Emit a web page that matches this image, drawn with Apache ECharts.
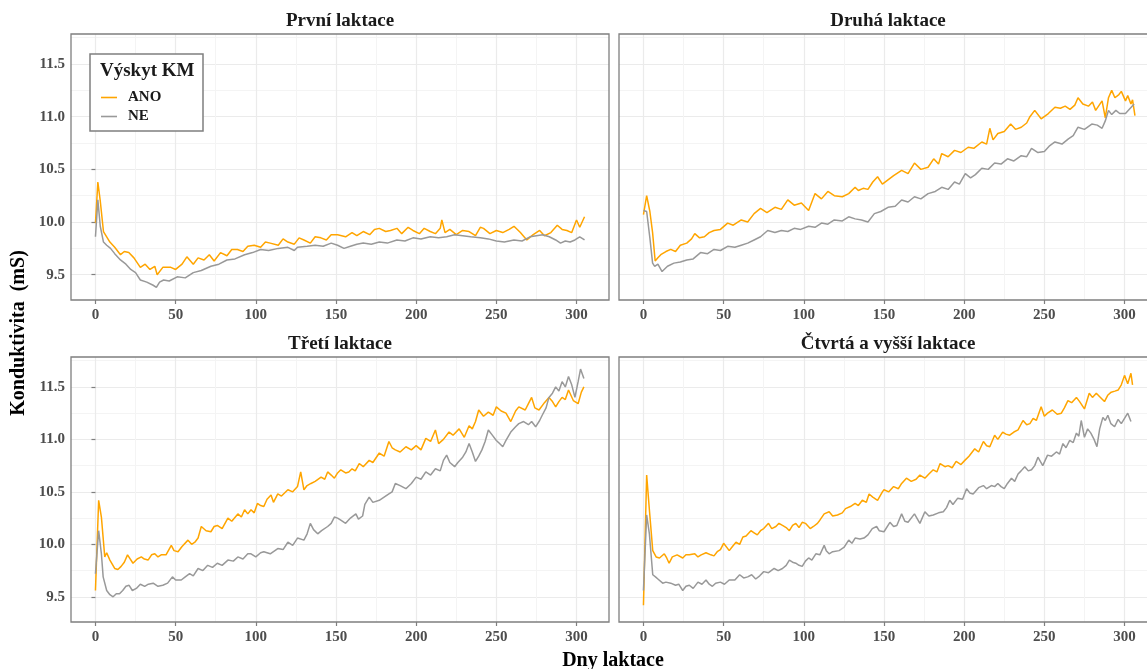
<!DOCTYPE html>
<html>
<head>
<meta charset="utf-8">
<title>Konduktivita</title>
<script src="https://cdn.jsdelivr.net/npm/echarts@6/dist/echarts.min.js"></script>
<style>
  html, body { margin: 0; padding: 0; background: #fff; }
  #main { width: 1147px; height: 669px; }
</style>
</head>
<body>
<div id="main"></div>
<script>
// tick labels
var xTicks = [0, 50, 100, 150, 200, 250, 300];
var xMinor = [25, 75, 125, 175, 225, 275];
var yTicks = [9.5, 10.0, 10.5, 11.0, 11.5];
var yMinor = [9.75, 10.25, 10.75, 11.25, 11.75];
var panelTitles = ['První laktace', 'Druhá laktace', 'Třetí laktace', 'Čtvrtá a vyšší laktace'];

// první laktace
var p1AnoDays = [0,1.5,3,5,7,9,12,15.6,18,20.8,24,28,31,34,37,38.5,42,47,50,54,57,61,64,67.7,71,74,78,82,85,88.5,92,95,99,103,106,109,114,117,120,124,127,130,134,137,140.6,144,147,151,156,160,163,167,171,174,177,181,184,188,191,195,198,202,205,208.75,212,215,216,218,221,225,229,233,237,240,242,246,250,254,258,261,265,269,273,277,280,284,288,291,294,297,300,302,305];
var p1AnoVals = [9.99,10.38,10.2,9.91,9.86,9.81,9.76,9.69,9.72,9.71,9.66,9.57,9.6,9.55,9.58,9.5,9.57,9.57,9.55,9.6,9.67,9.6,9.66,9.64,9.69,9.63,9.71,9.68,9.74,9.74,9.72,9.77,9.78,9.76,9.81,9.8,9.78,9.84,9.81,9.79,9.85,9.83,9.8,9.86,9.85,9.83,9.88,9.88,9.86,9.9,9.87,9.91,9.88,9.93,9.94,9.91,9.92,9.94,9.89,9.95,9.92,9.89,9.94,9.91,9.89,9.94,10.02,9.9,9.93,9.88,9.92,9.91,9.87,9.95,9.94,9.89,9.92,9.9,9.93,9.96,9.9,9.83,9.88,9.92,9.87,9.9,9.97,9.93,9.92,9.9,10.02,9.95,10.05];
var p1NeDays = [0,1.5,3,5,7,9.4,12,15.6,19,22,25,28,32,36,38,40,42.5,46,51,56,61,66,72,77,82,87,93,98,103,108,114,120,124,126,132,137,142,147,151,155,159,163,167,172,177,182,188,193,198,203,208.75,214,219,224,229,234,240,245,250,255,261,266,271,275,279,283,287,290,293,296,299,302,305];
var p1NeVals = [9.86,10.21,9.96,9.81,9.78,9.75,9.7,9.64,9.6,9.55,9.52,9.45,9.43,9.4,9.38,9.43,9.45,9.44,9.48,9.47,9.52,9.54,9.58,9.6,9.64,9.65,9.69,9.71,9.74,9.73,9.75,9.76,9.73,9.76,9.77,9.78,9.77,9.8,9.78,9.75,9.77,9.79,9.8,9.79,9.81,9.8,9.83,9.82,9.85,9.84,9.86,9.85,9.86,9.88,9.87,9.86,9.85,9.84,9.82,9.81,9.83,9.82,9.86,9.87,9.88,9.86,9.83,9.8,9.82,9.81,9.83,9.86,9.83];

// druhá laktace
var p2AnoDays = [0,2,4,5.7,7.3,9,10.8,14,17,20,23,27,30,32,35,38,41,44,48,52.5,56,61,65,69,73,77,82,86,90,94,98.5,103,107,111,115,119,124,128,132,134,137,140,143,146,149,152.5,156,161,165,169,173,177.5,181,184,186,190,194,198,202.5,206,211,214,216,218,221,225,229,232,235.6,239,241,244,248,252.5,256.6,260,263,266,269,271,274,277.5,280,282,286,288,290,292,294,296.5,298,300.6,302,304,305,306.5];
var p2AnoVals = [10.07,10.25,10.1,9.9,9.63,9.66,9.69,9.72,9.74,9.72,9.78,9.8,9.84,9.89,9.85,9.86,9.9,9.92,9.93,9.99,9.97,10.02,10.0,10.08,10.13,10.09,10.14,10.12,10.21,10.16,10.18,10.11,10.27,10.22,10.29,10.25,10.24,10.27,10.33,10.3,10.32,10.31,10.38,10.43,10.36,10.4,10.44,10.49,10.46,10.56,10.5,10.52,10.6,10.55,10.65,10.62,10.68,10.66,10.71,10.7,10.76,10.74,10.89,10.78,10.84,10.86,10.93,10.88,10.9,10.94,11.0,11.06,10.98,11.03,11.09,11.08,11.1,11.07,11.11,11.18,11.12,11.1,11.14,11.06,11.15,10.99,11.18,11.25,11.18,11.21,11.24,11.15,11.2,11.12,11.16,11.01];
var p2NeDays = [0,2,4,5.7,7,9,11.6,15,19,23,27,31,35.6,40,44,48,52.5,57,61,65,69,73,77.5,82,86,90,94,98,103,107,111,115,119,124,128,132,136,140,144,148,152.5,157,161,165,169,173,177.5,182,186,190,194,197,200.7,204,207,211,215,219,223,227,231,235.6,239,242,246,250,253,256.6,261,265,268,271,275,279.6,283,286,288,290,292,294.6,297,300.6,303,306];
var p2NeVals = [10.11,10.1,9.85,9.61,9.58,9.6,9.53,9.58,9.61,9.62,9.64,9.65,9.71,9.7,9.74,9.73,9.77,9.76,9.78,9.8,9.83,9.86,9.92,9.9,9.92,9.91,9.94,9.93,9.96,9.95,9.99,9.98,10.02,10.01,10.05,10.03,10.02,10.0,10.08,10.1,10.14,10.15,10.21,10.19,10.24,10.22,10.27,10.29,10.33,10.31,10.38,10.36,10.46,10.42,10.45,10.51,10.5,10.56,10.55,10.6,10.58,10.63,10.62,10.7,10.66,10.67,10.72,10.76,10.74,10.79,10.82,10.9,10.88,10.93,10.92,10.89,10.96,11.06,11.02,11.06,11.03,11.03,11.07,11.12];

// třetí laktace
var p3AnoDays = [0,2,3.7,5.8,7,9,12,14,16,18,20,23.4,26,28.6,30.5,32.8,35,37,39,41,44,47.3,49,51.5,54,57.7,60,62,64,66,69,72,74,76,79,82.6,85,88.8,91,93,95,97,99,101,103,105,107,109.5,111,113.7,116,120,123,126,128,130,132,134.4,137,140.7,143,144.8,147,149,151,153,156,158,160,162,164.5,167,170.7,173,177,180,183,185,187,190,193.6,197,200,203,206,209,212,214,217,220.5,223,226.8,230,233,235,237,239,242,245,248,250,253,256,259,262,264,268,270,272,274,276.6,280,282.8,285,287,289,291,293,295,298,301,303,304.6];
var p3AnoVals = [9.56,10.42,10.26,9.88,9.92,9.85,9.77,9.76,9.79,9.83,9.9,9.82,9.86,9.88,9.86,9.85,9.9,9.91,9.88,9.9,9.9,9.99,9.94,9.93,9.98,10.04,10.0,10.02,10.06,10.17,10.13,10.12,10.17,10.18,10.15,10.25,10.22,10.29,10.26,10.33,10.29,10.33,10.3,10.39,10.37,10.36,10.43,10.47,10.4,10.48,10.46,10.52,10.5,10.55,10.69,10.52,10.56,10.58,10.6,10.64,10.62,10.69,10.66,10.63,10.68,10.71,10.68,10.69,10.72,10.7,10.77,10.74,10.8,10.78,10.87,10.84,10.98,10.92,10.9,10.88,10.93,10.9,10.94,10.9,11.01,10.98,11.09,10.96,11.0,11.07,11.04,11.1,11.02,11.13,11.1,11.17,11.28,11.22,11.26,11.23,11.31,11.27,11.25,11.17,11.27,11.31,11.28,11.34,11.4,11.3,11.28,11.35,11.4,11.36,11.31,11.36,11.4,11.38,11.47,11.37,11.34,11.45,11.5];
var p3NeDays = [0,2,3.7,4.8,7,9,11,13,15,17,19,21,23,25.5,28,30.7,33,36,39,42,45,48,50,53.5,56,58.7,61,64,67,70,73,76,79,82.6,86,88.8,92,95,97,100,103,105,109,113.7,117,120,123,126,130,132,134,136,138.6,141,144.8,147,149,151,153,156,159,162.4,164,166.6,168,170.7,173,177,180,183,185,187,190,193.6,197,200,203,206,209,212,215,217,219,221,224,226,229,231,233,235,237,239,241,243,245,247,250,252,254,256,259,262,264,267,270,272,274.5,277,278.6,281,282.8,285,287,289,291,293,295,297,299,301,302.5,304.6];
var p3NeVals = [9.72,10.13,9.91,9.69,9.56,9.52,9.5,9.53,9.53,9.56,9.6,9.61,9.56,9.58,9.62,9.6,9.62,9.63,9.6,9.61,9.63,9.69,9.66,9.66,9.69,9.72,9.7,9.77,9.75,9.8,9.78,9.82,9.8,9.85,9.84,9.88,9.86,9.91,9.91,9.88,9.92,9.93,9.91,9.96,9.95,10.02,9.99,10.06,10.04,10.1,10.2,10.14,10.1,10.13,10.17,10.2,10.26,10.25,10.23,10.2,10.25,10.29,10.24,10.27,10.38,10.45,10.4,10.42,10.45,10.48,10.5,10.58,10.56,10.53,10.58,10.64,10.62,10.69,10.66,10.72,10.7,10.8,10.85,10.78,10.74,10.78,10.83,10.88,10.96,10.88,10.79,10.84,10.9,10.98,11.09,11.05,10.99,10.96,10.93,10.99,11.07,11.12,11.15,11.17,11.14,11.17,11.12,11.18,11.23,11.3,11.4,11.44,11.5,11.46,11.55,11.5,11.6,11.52,11.4,11.55,11.67,11.58];

// čtvrtá a vyšší laktace
var p4AnoDays = [0,2,3.7,5.8,7.9,10,13,14.5,16,18,21,24.5,26.5,28.6,32,34,36,39,42,44,46,48,50,53.5,55.5,57.7,60,62,64,67,69,71,73,75,78,80,82.6,84.5,86.7,89,91,93,95,97,99,101,104,106,108.5,110,112.7,115.8,118,121,124,126,129,132,134,136.5,139,140.7,143,146,149,150,153,156,159,161,164,167,170,172.4,175.5,178,180.7,183,185,188,190,192.5,195,198,200.4,203,206.6,209,212,214,216,219,221,224,226,228.4,231,233.6,236.7,239,241,243,245,248,250,252,255,258,260.6,262.5,264.7,267,270,272,275,278,280,282.4,285,287.5,289.5,291.7,294,296,298,300,302,304,305];
var p4AnoVals = [9.42,10.66,10.33,9.94,9.88,9.87,9.91,9.87,9.82,9.88,9.9,9.87,9.9,9.9,9.91,9.88,9.9,9.92,9.9,9.89,9.93,9.95,10.01,9.94,9.98,10.02,10.0,10.07,10.08,10.13,10.11,10.09,10.13,10.15,10.2,10.15,10.17,10.2,10.18,10.16,10.13,10.18,10.2,10.16,10.21,10.2,10.15,10.17,10.2,10.23,10.29,10.31,10.27,10.28,10.3,10.34,10.36,10.39,10.37,10.42,10.4,10.48,10.45,10.42,10.5,10.52,10.5,10.55,10.53,10.58,10.63,10.6,10.62,10.66,10.63,10.67,10.71,10.69,10.77,10.74,10.75,10.73,10.79,10.76,10.8,10.84,10.91,10.88,10.98,10.94,10.93,11.04,11.0,11.07,11.05,11.04,11.07,11.09,11.18,11.14,11.15,11.2,11.18,11.31,11.22,11.25,11.28,11.24,11.25,11.3,11.37,11.35,11.4,11.36,11.29,11.44,11.4,11.44,11.4,11.36,11.42,11.45,11.46,11.47,11.52,11.61,11.53,11.63,11.52];
var p4NeDays = [0,2,3.7,5.8,7.5,9,12,14,17,20,22,24.5,26.5,28.6,31,34,36.5,39,41,43,45,48,50.5,53.5,57,60,62.5,65,67.5,70,72.5,75,78,81.5,84,86.7,89,91,93,95,97,99,101,103,105,107.5,110,112.7,114,115.8,118,122,125,128,130,132,135,137.5,140,142.7,145.4,147,150,153.7,156,158,161,163,165,169,172.4,175.5,178,180.7,184,187,189,191,193,196,199,201.5,203.5,205.6,209,212,214,217,219,221,223,225,227,229.5,231.5,233.6,235.5,237.8,240,242,244,246,249,252,254.5,257.5,259.5,261.6,263.5,265.8,268,270,271.5,273,275,277,279,281,282.8,284.5,286.5,288,289.6,291.5,293.8,296,298,300,302,304];
var p4NeVals = [9.56,10.28,10.1,9.71,9.69,9.67,9.63,9.64,9.63,9.61,9.62,9.56,9.6,9.61,9.58,9.64,9.62,9.66,9.62,9.6,9.63,9.64,9.62,9.66,9.66,9.71,9.68,9.69,9.71,9.67,9.7,9.74,9.73,9.77,9.75,9.77,9.8,9.85,9.83,9.82,9.8,9.79,9.84,9.87,9.85,9.91,9.9,9.99,9.94,9.91,9.93,9.94,9.97,10.04,10.01,10.06,10.05,10.06,10.09,10.15,10.17,10.13,10.12,10.21,10.17,10.18,10.29,10.22,10.21,10.29,10.2,10.31,10.27,10.28,10.3,10.31,10.35,10.42,10.38,10.44,10.43,10.53,10.49,10.48,10.54,10.56,10.53,10.56,10.55,10.58,10.55,10.53,10.58,10.63,10.6,10.67,10.7,10.74,10.7,10.71,10.75,10.83,10.75,10.85,10.84,10.88,10.86,10.96,10.92,10.99,10.97,11.06,11.03,11.18,11.02,11.1,11.06,11.0,10.93,11.1,11.21,11.18,11.23,11.15,11.12,11.19,11.15,11.2,11.25,11.17];

var panels = [
  { ano: [p1AnoDays, p1AnoVals], ne: [p1NeDays, p1NeVals], left: 71, top: 34, height: 266 },
  { ano: [p2AnoDays, p2AnoVals], ne: [p2NeDays, p2NeVals], left: 619, top: 34, height: 266 },
  { ano: [p3AnoDays, p3AnoVals], ne: [p3NeDays, p3NeVals], left: 71, top: 357, height: 265 },
  { ano: [p4AnoDays, p4AnoVals], ne: [p4NeDays, p4NeVals], left: 619, top: 357, height: 265 }
];

var serif = 'Liberation Serif, Times New Roman, serif';
var tickColor = '#7f7f7f';
var labelStyle = { color: '#4d4d4d', fontWeight: 'bold', fontSize: 15, fontFamily: serif };

function zip(days, vals) {
  return days.map(function (d, i) { return [d, vals[i]]; });
}

var grids = [], xAxes = [], yAxes = [], series = [], titles = [], borders = [];
var w = 538;

panels.forEach(function (p, i) {
  grids.push({
    left: p.left, top: p.top, width: w, height: p.height,
    outerBoundsMode: 'none', containLabel: false, show: false
  });
  // panel frame (right column runs past the canvas edge, as in the original)
  borders.push({
    type: 'rect', z: 10, silent: true,
    shape: { x: p.left, y: p.top, width: w, height: p.height },
    style: { fill: null, stroke: tickColor, lineWidth: 1.3 }
  });
  // major x
  xAxes.push({
    type: 'value', gridIndex: i, min: -15.25, max: 320.25,
    axisLine: { show: false },
    axisTick: { show: true, length: 4, customValues: xTicks, lineStyle: { color: tickColor, width: 1.2 } },
    axisLabel: Object.assign({ customValues: xTicks, margin: 8 }, labelStyle),
    splitLine: { show: true, lineStyle: { color: '#ebebeb', width: 1.2 } }
  });
  // minor x
  xAxes.push({
    type: 'value', gridIndex: i, min: -15.25, max: 320.25,
    axisLine: { show: false },
    axisTick: { show: false, customValues: xMinor },
    axisLabel: { show: false },
    splitLine: { show: true, lineStyle: { color: '#f4f4f4', width: 1 } }
  });
  var leftCol = (i % 2 === 0);
  yAxes.push({
    type: 'value', gridIndex: i, min: 9.26, max: 11.785,
    axisLine: { show: false },
    axisTick: { show: leftCol, length: 4, customValues: yTicks, lineStyle: { color: tickColor, width: 1.2 } },
    axisLabel: Object.assign({
      show: leftCol, customValues: yTicks, margin: 6,
      formatter: function (v) { return v.toFixed(1); }
    }, labelStyle),
    splitLine: { show: true, lineStyle: { color: '#ebebeb', width: 1.2 } }
  });
  yAxes.push({
    type: 'value', gridIndex: i, min: 9.26, max: 11.785,
    axisLine: { show: false },
    axisTick: { show: false, customValues: yMinor },
    axisLabel: { show: false },
    splitLine: { show: true, lineStyle: { color: '#f4f4f4', width: 1 } }
  });

  series.push({
    name: 'ANO', type: 'line', xAxisIndex: i * 2, yAxisIndex: i * 2,
    data: zip(p.ano[0], p.ano[1]), symbol: 'none', silent: true,
    lineStyle: { color: '#FFA500', width: 1.5 }, itemStyle: { color: '#FFA500' }
  });
  series.push({
    name: 'NE', type: 'line', xAxisIndex: i * 2, yAxisIndex: i * 2,
    data: zip(p.ne[0], p.ne[1]), symbol: 'none', silent: true,
    lineStyle: { color: '#999999', width: 1.5 }, itemStyle: { color: '#999999' }
  });

  titles.push({
    text: panelTitles[i], left: p.left + w / 2, top: p.top - 22, textAlign: 'center',
    padding: 0,
    textStyle: { fontFamily: serif, fontWeight: 'bold', fontSize: 19, color: '#1a1a1a' }
  });
});

var myChart = echarts.init(document.getElementById('main'));
myChart.setOption({
  animation: false,
  title: titles,
  grid: grids,
  xAxis: xAxes,
  yAxis: yAxes,
  series: series,
  legend: {
    data: [{ name: 'ANO', icon: 'rect' }, { name: 'NE', icon: 'rect' }],
    orient: 'vertical', left: 101, top: 90,
    itemWidth: 16, itemHeight: 1.6, itemGap: 4, padding: 0, z: 12,
    textStyle: { fontFamily: serif, fontWeight: 'bold', fontSize: 15, lineHeight: 15, color: '#1a1a1a', padding: [0, 0, 0, 6] }
  },
  graphic: borders.concat([
    {
      type: 'rect', z: 11, shape: { x: 90, y: 54, width: 113, height: 77 },
      style: { fill: '#fff', stroke: tickColor, lineWidth: 1.5 }
    },
    {
      type: 'text', z: 12, x: 100, y: 71,
      style: { text: 'Výskyt KM', fontFamily: serif, fontWeight: 'bold', fontSize: 19, fill: '#1a1a1a', textVerticalAlign: 'middle' }
    },
    {
      type: 'text', x: 19, y: 333, rotation: Math.PI / 2,
      style: { text: 'Konduktivita  (mS)', fontFamily: serif, fontWeight: 'bold', fontSize: 20, fill: '#000', textAlign: 'center', textVerticalAlign: 'middle' }
    },
    {
      type: 'text', x: 613, y: 661,
      style: { text: 'Dny laktace', fontFamily: serif, fontWeight: 'bold', fontSize: 20, fill: '#000', textAlign: 'center', textVerticalAlign: 'middle' }
    }
  ])
});
</script>
</body>
</html>
